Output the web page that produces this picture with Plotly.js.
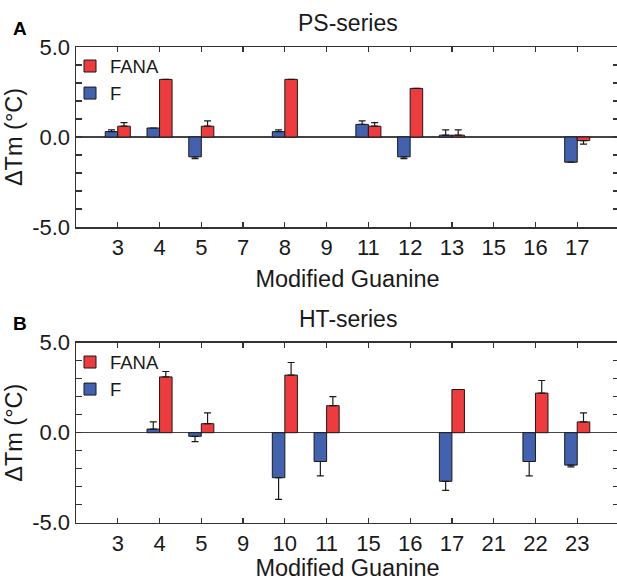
<!DOCTYPE html>
<html>
<head>
<meta charset="utf-8">
<script src="https://cdn.plot.ly/plotly-3.0.1.min.js"></script>
<style>
html,body{margin:0;padding:0;overflow:hidden;background:#fff;}
#chart{width:619px;height:581px;}
</style>
</head>
<body>
<div id="chart"></div>
<script>
// ---- Data ----
const psCategories = ['3','4','5','7','8','9','11','12','13','15','16','17'];
const psF        = [0.3, 0.5, -1.1, null, 0.3, null, 0.7, -1.1, 0.1, null, null, -1.4];
const psFErr     = [0.1, 0.0,  0.1, null, 0.1, null, 0.2,  0.1, 0.3, null, null,  0.0];
const psFANA     = [0.6, 3.2,  0.6, null, 3.2, null, 0.6,  2.7, 0.1, null, null, -0.2];
const psFANAErr  = [0.2, 0.0,  0.3, null, 0.0, null, 0.2,  0.0, 0.3, null, null,  0.2];

const htCategories = ['3','4','5','9','10','11','15','16','17','21','22','23'];
const htF        = [null, 0.2, -0.2, null, -2.5, -1.6, null, null, -2.7, null, -1.6, -1.8];
const htFErr     = [null, 0.4,  0.3, null,  1.2,  0.8, null, null,  0.5, null,  0.8,  0.1];
const htFANA     = [null, 3.1,  0.5, null,  3.2,  1.5, null, null,  2.4, null,  2.2,  0.6];
const htFANAErr  = [null, 0.3,  0.6, null,  0.7,  0.5, null, null,  0.0, null,  0.7,  0.5];

const yTickVals = [-5,-4,-3,-2,-1,0,1,2,3,4,5];
const yTickText = ['-5.0','','','','','0.0','','','','','5.0'];

const seriesNames = {F: 'F', FANA: 'FANA'};
const panelTitles = ['PS-series', 'HT-series'];
const panelLetters = ['A', 'B'];
const xTitle = 'Modified Guanine';
const yTitle = 'ΔTm (°C)';

// ---- Styling ----
const RED = '#EE3B3E';
const BLUE = '#4262B0';
const FONT = 'Liberation Sans, Arial, Helvetica, sans-serif';
const INK = '#1a1a1a';

function plusArr(v, e){ return v.map((x,i)=> x==null ? null : (x >= 0 ? e[i] : 0)); }
function minusArr(v, e){ return v.map((x,i)=> x==null ? null : (x < 0 ? e[i] : 0)); }

function barTrace(cats, vals, errs, name, color, xa, ya, legend){
  return {
    type: 'bar', x: cats, y: vals, name: name,
    xaxis: xa, yaxis: ya, legend: legend,
    marker: {color: color, line: {color: INK, width: 1}},
    error_y: {type: 'data', symmetric: false, array: plusArr(vals, errs), arrayminus: minusArr(vals, errs),
              color: INK, thickness: 1.2, width: 3.5},
    hoverinfo: 'x+y'
  };
}

const traces = [
  barTrace(psCategories, psF, psFErr, seriesNames.F, BLUE, 'x', 'y', 'legend'),
  barTrace(psCategories, psFANA, psFANAErr, seriesNames.FANA, RED, 'x', 'y', 'legend'),
  barTrace(htCategories, htF, htFErr, seriesNames.F, BLUE, 'x2', 'y2', 'legend2'),
  barTrace(htCategories, htFANA, htFANAErr, seriesNames.FANA, RED, 'x2', 'y2', 'legend2')
];

function xAxis(anchor){
  return {
    anchor: anchor, domain: [0, 1], type: 'category', range: [-1, 12],
    showline: true, linecolor: '#333', linewidth: 1.5, mirror: 'ticks',
    ticks: 'inside', ticklen: 5, tickwidth: 1.2, tickcolor: '#333',
    showgrid: false, zeroline: false,
    tickfont: {family: FONT, size: 22, color: INK},
    title: {text: xTitle, font: {family: FONT, size: 23.5, color: INK}, standoff: 11}
  };
}
function yAxis(anchor, domain){
  return {
    anchor: anchor, domain: domain, range: [-5, 5],
    tickmode: 'array', tickvals: yTickVals, ticktext: yTickText,
    showline: true, linecolor: '#333', linewidth: 1.5, mirror: 'ticks',
    ticks: 'inside', ticklen: 6, tickwidth: 1.2, tickcolor: '#333',
    showgrid: false, zeroline: true, zerolinecolor: '#444', zerolinewidth: 1.2,
    tickfont: {family: FONT, size: 22, color: INK},
    title: {text: yTitle, font: {family: FONT, size: 23.5, color: INK}, standoff: 3}
  };
}

const H = 581, L = 76, PW = 543;
function py(px){ return 1 - px / H; }
function px2x(px){ return (px - L) / PW; }

const layout = {
  width: 619, height: 581,
  margin: {l: L, r: 0, t: 0, b: 0},
  paper_bgcolor: '#fff', plot_bgcolor: '#fff',
  barmode: 'group', bargap: 0.4, bargroupgap: 0,
  xaxis: xAxis('y'),
  yaxis: yAxis('x', [py(227), py(47)]),
  xaxis2: xAxis('y2'),
  yaxis2: yAxis('x2', [py(522.7), py(342.7)]),
  legend: {x: px2x(70), y: py(47.5), xanchor: 'left', yanchor: 'top', traceorder: 'reversed',
           bgcolor: 'rgba(0,0,0,0)', font: {family: FONT, size: 18.5, color: INK}, itemwidth: 30},
  legend2: {x: px2x(70), y: py(343.5), xanchor: 'left', yanchor: 'top', traceorder: 'reversed',
           bgcolor: 'rgba(0,0,0,0)', font: {family: FONT, size: 18.5, color: INK}, itemwidth: 30},
  annotations: [
    {text: panelTitles[0], xref: 'paper', yref: 'paper', x: 0.5, y: py(23.5), xanchor: 'center', yanchor: 'middle',
     showarrow: false, font: {family: FONT, size: 23, color: INK}},
    {text: panelTitles[1], xref: 'paper', yref: 'paper', x: 0.5, y: py(319), xanchor: 'center', yanchor: 'middle',
     showarrow: false, font: {family: FONT, size: 23, color: INK}},
    {text: '<b>' + panelLetters[0] + '</b>', xref: 'paper', yref: 'paper', x: px2x(10.5), y: py(28.5), xanchor: 'left', yanchor: 'middle',
     showarrow: false, font: {family: FONT, size: 19, color: '#000'}},
    {text: '<b>' + panelLetters[1] + '</b>', xref: 'paper', yref: 'paper', x: px2x(10.5), y: py(323.5), xanchor: 'left', yanchor: 'middle',
     showarrow: false, font: {family: FONT, size: 19, color: '#000'}}
  ]
};

Plotly.newPlot('chart', traces, layout, {displayModeBar: false, staticPlot: true});
</script>
</body>
</html>
